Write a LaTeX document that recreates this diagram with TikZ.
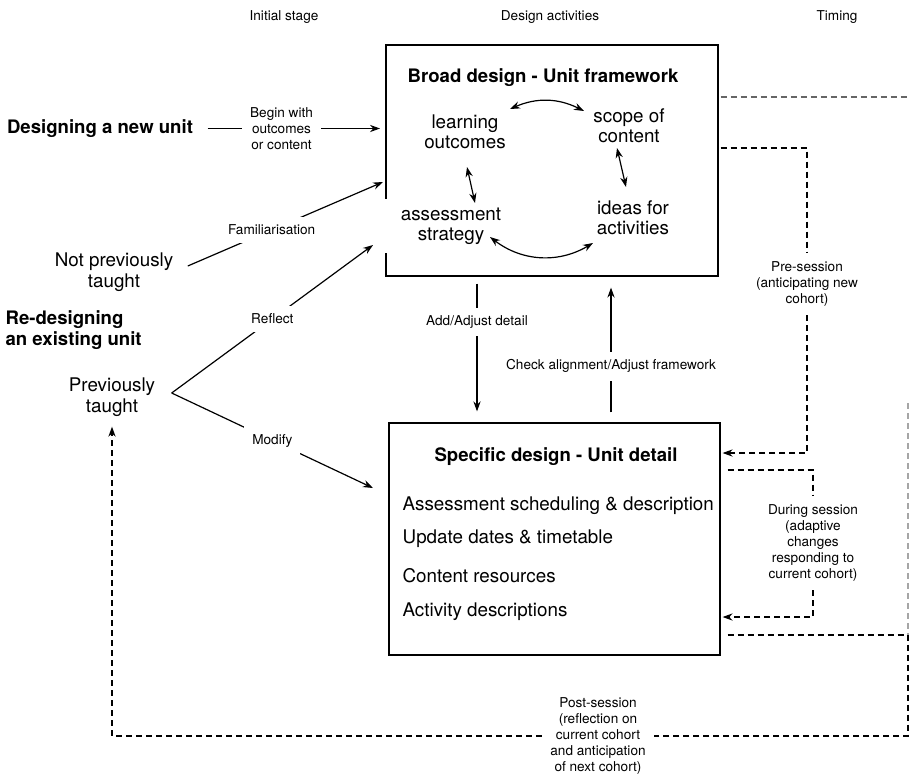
\documentclass[tikz,border=0pt]{standalone}
\usepackage{fontspec}
\setmainfont{TeX Gyre Heros}
\usetikzlibrary{arrows.meta}

\begin{document}
\begin{tikzpicture}[x=0.5pt,y=-0.5pt,line width=0.6pt,
    >={Stealth[length=5pt,width=3.6pt]},
    every node/.style={inner sep=2pt,align=center},
    head/.style={font=\fontsize{6.8}{8}\selectfont},
    lbl/.style={font=\fontsize{6.8}{8}\selectfont,fill=white,inner sep=4pt},
    big/.style={font=\fontsize{9.3}{10.5}\selectfont\bfseries},
    txt/.style={font=\fontsize{9.4}{10.2}\selectfont},
    item/.style={txt,anchor=west,inner sep=0pt},
    dsh/.style={dash pattern=on 3pt off 2pt}]
  \useasboundingbox (0,0) rectangle (910,777);
  % column heads
  \node[head] (hinit) at (284,17) {Initial stage};
  \node[head] (hdes) at (550,17) {Design activities};
  \node[head] (htime) at (837,17) {Timing};
  % the two boxes
  \node[draw,minimum width=166pt,minimum height=115.5pt,inner sep=0pt] (broad) at (552,160.5) {};
  \node[draw,minimum width=165.5pt,minimum height=116pt,inner sep=0pt] (spec) at (554.5,539) {};
  \node[big] (broadt) at (543,78) {Broad design - Unit framework};
  \node[txt] (learn) at (465,132) {learning\\outcomes};
  \node[txt] (scope) at (629,126) {scope of\\content};
  \node[txt,fill=white,inner xsep=8pt,inner ysep=4.2pt] (assess) at (451,226) {assessment\\strategy};
  \node[txt] (ideas) at (633,218) {ideas for\\activities};
  \draw[<->]([shift={(45,-23)}]learn.center) to[bend left=25] ([shift={(-45,-15)}]scope.center);
  \draw[<->]([shift={(2,35)}]learn.center) -- ([shift={(24,-23)}]assess.center);
  \draw[<->]([shift={(-12,22)}]scope.center) -- ([shift={(-7,-31)}]ideas.center);
  \draw[<->]([shift={(39,11)}]assess.center) to[bend right=34] ([shift={(-40,25)}]ideas.center);
  \node[big] (spect) at (556,457) {Specific design - Unit detail};
  \node[item] (sched) at (402,506) {Assessment scheduling \& description};
  \node[item] (dates) at (402,539) {Update dates \& timetable};
  \node[item] (cres) at (402,576) {Content resources};
  \node[item] (acts) at (402,612) {Activity descriptions};
  % initial stage
  \node[big] (newu) at (100,128.5) {Designing a new unit};
  \node[txt] (notp) at (114,272) {Not previously\\taught};
  \node[big,align=left,anchor=west,inner sep=0pt] (redes) at (5,330.5) {Re-designing\\an existing unit};
  \node[txt] (prevt) at (112,397) {Previously\\taught};
  \coordinate (beginend) at (380,128.5);
  \coordinate (famend) at (383,182);
  \coordinate (fork) at ([shift={(12,-4)}]prevt.east);
  \coordinate (reflend) at (373,245);
  \coordinate (modend) at (373,488);
  \draw[->,shorten <=5pt](newu) -- node[lbl,pos=0.46]{Begin with\\outcomes\\or content} (beginend);
  \draw[->]([shift={(10,-6)}]notp.east) -- node[lbl,pos=0.43]{Familiarisation} (famend);
  \draw[->](fork) -- node[lbl]{Reflect} (reflend);
  \draw[->](fork) -- node[lbl]{Modify} (modend);
  % between the boxes
  \draw[->]([shift={(-75,7)}]broad.south) -- node[lbl,pos=0.3]{Add/Adjust detail} ([shift={(-77.5,-11)}]spec.north);
  \draw[->]([shift={(56.5,-10)}]spec.north) -- node[lbl,pos=0.37]{Check alignment/Adjust framework} ([shift={(59,11)}]broad.south);
  % timing
  \node[lbl] (pre) at (807,284) {Pre-session\\(anticipating new\\cohort)};
  \draw[dsh]([shift={(2,-12.5)}]broad.east) -| (pre);
  \draw[dsh,->](pre) |- ([shift={(2,-86)}]spec.east);
  \node[lbl] (during) at (813,543) {During session\\(adaptive\\changes\\responding to\\current cohort)};
  \draw[dsh]([shift={(7,-69)}]spec.east) -| (during);
  \draw[dsh,->](during) |- ([shift={(2,78)}]spec.east);
  \node[lbl] (post) at (598,736) {Post-session\\(reflection on\\current cohort\\and anticipation\\of next cohort)};
  \coordinate (rc) at (908,736);
  \draw[dsh]([shift={(7,96)}]spec.east) -| (rc) -- (post);
  \draw[dsh,->,shorten >=3pt](post) -| (prevt);
  \coordinate (topout) at (910,97);
  \coordinate (rtop) at (908,403);
  \coordinate (rmid) at (908,635);
  \draw[dsh,black!60]([shift={(2,-63.5)}]broad.east) -- (topout);
  \draw[dsh,black!35](rtop) -- (rmid);
\end{tikzpicture}
\end{document}
